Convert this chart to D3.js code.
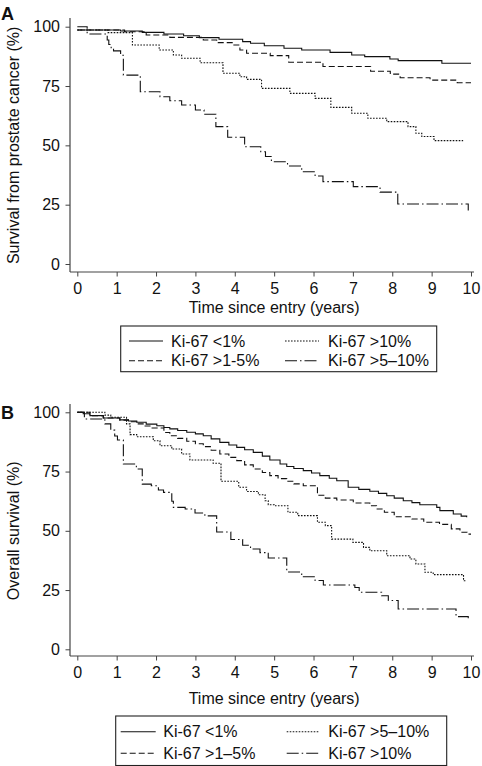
<!DOCTYPE html>
<html>
<head>
<meta charset="utf-8">
<script src="https://cdn.jsdelivr.net/npm/d3@7"></script>
<style>
  html, body { margin: 0; padding: 0; background: #fff; }
  svg { display: block; }
  text { font-family: "Liberation Sans", Arial, Helvetica, sans-serif; fill: #111; }
</style>
</head>
<body>
<svg id="chart" width="482" height="766"></svg>
<script>
// ---------- data ----------
const xTicks = [0, 1, 2, 3, 4, 5, 6, 7, 8, 9, 10];
const yTicks = [0, 25, 50, 75, 100];
const xTitle = "Time since entry (years)";
const yTitleA = "Survival from prostate cancer (%)";
const yTitleB = "Overall survival (%)";
const panelLabels = ["A", "B"];

// Panel A: survival from prostate cancer
const aLt1 = [[0,98.6],[1.1,98.2],[1.65,97.6],[2.2,96.9],[2.7,96.2],[3.1,95.4],[3.6,94.7],[4.2,93.7],[4.4,93.0],[4.75,92.0],[5.25,90.9],[5.7,90.2],[6.42,89.2],[6.97,88.1],[7.3,87.4],[7.94,86.4],[8.15,85.7],[9.26,84.6],[10.0,84.6]];
const a1to5 = [[0,98.6],[1.2,97.9],[1.75,96.5],[2.35,95.5],[3.2,94.4],[3.54,93.3],[3.96,92.3],[4.13,90.2],[4.3,88.8],[4.9,87.8],[5.37,85.0],[6.24,83.2],[7.45,81.2],[7.95,80.0],[8.2,78.5],[8.96,77.5],[9.65,76.4],[10.0,76.4]];
const aGt10 = [[0,98.6],[0.78,97.5],[1.4,92.3],[2.08,90.2],[2.44,88.1],[2.65,86.7],[3.12,84.8],[3.7,80.4],[4.13,78.9],[4.3,77.8],[4.68,74.0],[5.4,71.9],[6.04,69.8],[6.44,66.0],[6.97,63.5],[7.38,61.4],[7.86,60.0],[8.4,57.9],[8.6,55.1],[8.75,53.7],[9.06,52.0],[9.8,52.0]];
const a5to10 = [[0,100],[0.25,96.9],[0.76,94.4],[0.8,92.5],[0.86,90.6],[0.92,89.8],[1.1,88.0],[1.17,79.6],[1.6,72.6],[2.1,70.5],[2.35,68.8],[2.65,67.0],[3.0,64.9],[3.22,63.1],[3.52,57.9],[3.82,53.4],[4.25,49.4],[4.66,47.3],[4.78,45.3],[4.93,43.1],[5.34,41.3],[5.7,38.9],[6.04,37.1],[6.24,34.7],[7.01,32.6],[7.69,30.3],[8.14,25.3],[9.93,22.5]];

// Panel B: overall survival
const bLt1 = [[0,100],[0.15,99.4],[0.32,98.6],[0.66,97.6],[1.08,96.8],[1.3,96.3],[1.51,95.8],[1.75,95.0],[2.02,94.3],[2.2,93.6],[2.35,93.0],[2.55,92.3],[2.78,91.6],[3.0,90.9],[3.2,90.1],[3.4,88.8],[3.62,87.3],[3.85,86.2],[4.05,85.2],[4.25,84.2],[4.47,83.1],[4.7,81.5],[4.89,79.9],[5.15,78.2],[5.32,77.1],[5.5,76.3],[5.74,75.4],[5.95,74.4],[6.16,73.3],[6.4,72.2],[6.59,71.1],[6.88,68.4],[7.15,67.5],[7.43,66.7],[7.65,65.8],[7.86,64.8],[8.05,63.8],[8.28,62.7],[8.5,61.9],[8.7,61.0],[9.13,59.9],[9.21,58.5],[9.55,57.1],[9.75,56.2],[9.89,55.7]];
const b1to5 = [[0,100],[0.32,98.6],[0.66,97.6],[1.08,96.7],[1.3,96.0],[1.51,95.1],[1.7,94.2],[1.9,93.4],[2.2,91.5],[2.35,90.1],[2.55,89.0],[2.78,87.8],[3.0,86.7],[3.2,85.5],[3.4,84.0],[3.62,82.4],[3.85,81.0],[4.05,79.6],[4.25,77.8],[4.47,76.1],[4.7,74.6],[4.89,73.3],[5.1,72.0],[5.32,70.9],[5.5,69.8],[5.74,69.0],[6.1,65.0],[6.3,63.8],[6.59,63.0],[7.01,61.7],[7.43,60.6],[7.6,59.2],[7.8,57.8],[8.05,55.9],[8.5,55.0],[8.8,53.6],[9.2,52.7],[9.5,50.8],[9.72,49.4],[9.9,48.6],[10.0,48.6]];
const b5to10 = [[0,100],[0.7,98.8],[0.85,97.9],[1.25,95.1],[1.34,90.6],[1.51,89.7],[1.93,88.0],[2.1,85.9],[2.4,84.5],[2.65,82.4],[2.86,79.9],[3.45,78.5],[3.65,70.9],[4.1,68.4],[4.3,66.6],[4.6,65.2],[4.77,62.7],[4.85,61.0],[5.0,60.6],[5.35,57.8],[5.6,56.4],[6.1,53.6],[6.3,52.2],[6.46,46.5],[7.0,45.1],[7.27,43.0],[7.43,41.6],[7.86,39.5],[8.45,38.1],[8.6,36.0],[8.83,32.5],[9.04,31.5],[9.81,28.9],[9.89,28.9]];
const bGt10 = [[0,100],[0.18,97.2],[0.7,95.1],[0.85,92.5],[0.95,90.0],[1.02,88.3],[1.17,78.2],[1.5,76.1],[1.65,69.7],[1.88,69.0],[2.06,67.2],[2.19,66.2],[2.4,62.5],[2.44,59.9],[2.74,59.2],[2.99,57.5],[3.24,56.3],[3.54,49.5],[3.9,46.3],[4.2,43.9],[4.4,42.3],[4.64,40.8],[4.85,38.5],[5.32,32.6],[5.7,30.6],[6.04,29.0],[6.25,27.1],[7.05,26.1],[7.16,24.1],[7.73,22.6],[7.9,20.6],[8.15,17.0],[9.62,13.8],[9.93,12.2]];

// legend labels (order: row1 col1, row1 col2, row2 col1, row2 col2)
const legendLabelsA = ["Ki-67 <1%", "Ki-67 >10%", "Ki-67 >1-5%", "Ki-67 >5\u201310%"];
const legendLabelsB = ["Ki-67 <1%", "Ki-67 >5\u201310%", "Ki-67 >1\u20135%", "Ki-67 >10%"];

// ---------- styles ----------
const DASH = {
  solid: null,
  dashed: "6,3",
  dotted: "1.6,1.4",
  dashdot: "12,3,1.5,3"
};

const svg = d3.select("#chart");

function drawPanel(cfg) {
  const g = svg.append("g");
  const x = d3.scaleLinear().domain([0, 10]).range([77.3, 471]);
  const y = d3.scaleLinear().domain([0, 100]).range([cfg.y0, cfg.y100]);

  // Y axis
  const yAxis = d3.axisLeft(y).tickValues(yTicks).tickSize(4.5).tickPadding(5.5).tickSizeOuter(0);
  const ya = g.append("g").attr("transform", `translate(70,0)`).call(yAxis);
  ya.select(".domain").remove();
  ya.append("line").attr("x1", 0).attr("x2", 0).attr("y1", cfg.axTop).attr("y2", cfg.axBottom)
    .attr("stroke", "#444").attr("stroke-width", 1.2);
  ya.selectAll(".tick line").attr("stroke", "#444").attr("stroke-width", 1);
  ya.selectAll(".tick text").attr("font-size", 16).attr("fill", "#111")
    .style("font-family", '"Liberation Sans", Arial, sans-serif');

  // X axis
  const xAxis = d3.axisBottom(x).tickValues(xTicks).tickSize(4.5).tickPadding(6).tickSizeOuter(0);
  const xa = g.append("g").attr("transform", `translate(0,${cfg.axBottom})`).call(xAxis);
  xa.select(".domain").remove();
  xa.append("line").attr("x1", 70).attr("x2", 474).attr("y1", 0).attr("y2", 0)
    .attr("stroke", "#444").attr("stroke-width", 1.2);
  xa.selectAll(".tick line").attr("stroke", "#444").attr("stroke-width", 1);
  xa.selectAll(".tick text").attr("font-size", 16).attr("fill", "#111")
    .style("font-family", '"Liberation Sans", Arial, sans-serif');

  // axis titles
  g.append("text").attr("x", 274.2).attr("y", cfg.xTitleY).attr("text-anchor", "middle")
    .attr("font-size", 16).text(xTitle);
  g.append("text").attr("transform", `translate(18.5,${(cfg.y0 + cfg.y100) / 2}) rotate(-90)`)
    .attr("text-anchor", "middle").attr("font-size", 16).text(cfg.yTitle);

  // panel label
  g.append("text").attr("x", 1).attr("y", cfg.labelY).attr("font-size", 18)
    .attr("font-weight", "bold").text(cfg.label);

  // curves
  const line = d3.line().x(d => x(d[0])).y(d => y(d[1])).curve(d3.curveStepAfter);
  cfg.series.forEach(s => {
    g.append("path").datum(s.data).attr("d", line)
      .attr("fill", "none").attr("stroke", "#111").attr("stroke-width", 1.1)
      .attr("stroke-dasharray", DASH[s.style]);
  });

  // legend
  const L = cfg.legend;
  g.append("rect").attr("x", L.x0).attr("y", L.y0).attr("width", L.x1 - L.x0).attr("height", L.y1 - L.y0)
    .attr("fill", "#fff").attr("stroke", "#222").attr("stroke-width", 1.1);
  L.items.forEach((it, i) => {
    const col = i % 2, row = Math.floor(i / 2);
    const ly = L.rows[row];
    const c = L.cols[col];
    g.append("line").attr("x1", c.l0).attr("x2", c.l1).attr("y1", ly).attr("y2", ly)
      .attr("stroke", "#111").attr("stroke-width", 1.1).attr("stroke-dasharray", DASH[it.style]);
    g.append("text").attr("x", c.t).attr("y", ly + 5.6).attr("font-size", 16).text(it.label);
  });
}

drawPanel({
  label: panelLabels[0], labelY: 20,
  y0: 264, y100: 26.7, axTop: 18, axBottom: 272,
  xTitleY: 313, yTitle: yTitleA,
  series: [
    { data: aLt1, style: "solid" },
    { data: a1to5, style: "dashed" },
    { data: aGt10, style: "dotted" },
    { data: a5to10, style: "dashdot" }
  ],
  legend: {
    x0: 120.7, x1: 436.7, y0: 326, y1: 371.7,
    rows: [341, 360.7],
    cols: [{ l0: 129, l1: 163, t: 171 }, { l0: 285, l1: 319, t: 328 }],
    items: [
      { label: legendLabelsA[0], style: "solid" },
      { label: legendLabelsA[1], style: "dotted" },
      { label: legendLabelsA[2], style: "dashed" },
      { label: legendLabelsA[3], style: "dashdot" }
    ]
  }
});

drawPanel({
  label: panelLabels[1], labelY: 419,
  y0: 649.3, y100: 412.3, axTop: 404, axBottom: 656,
  xTitleY: 704, yTitle: yTitleB,
  series: [
    { data: bLt1, style: "solid" },
    { data: b1to5, style: "dashed" },
    { data: b5to10, style: "dotted" },
    { data: bGt10, style: "dashdot" }
  ],
  legend: {
    x0: 115.7, x1: 446.7, y0: 716, y1: 765.5,
    rows: [731.7, 753.3],
    cols: [{ l0: 120.7, l1: 155.7, t: 163.3 }, { l0: 286.7, l1: 319.3, t: 328.3 }],
    items: [
      { label: legendLabelsB[0], style: "solid" },
      { label: legendLabelsB[1], style: "dotted" },
      { label: legendLabelsB[2], style: "dashed" },
      { label: legendLabelsB[3], style: "dashdot" }
    ]
  }
});
</script>
</body>
</html>
